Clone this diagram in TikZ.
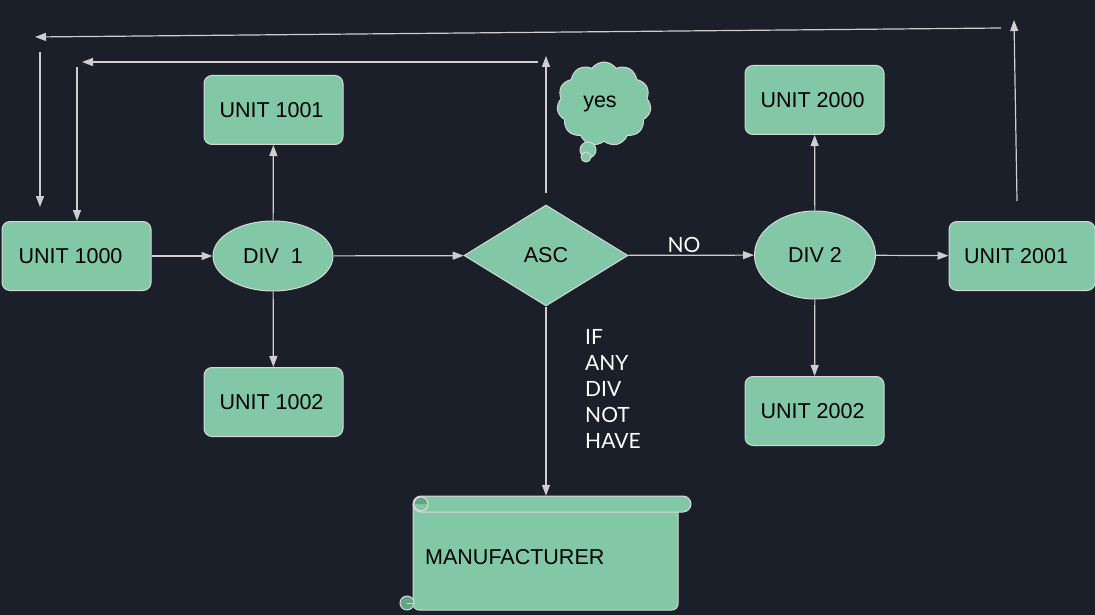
\documentclass[tikz,border=0pt]{standalone}
\usepackage{fontspec}
\setmainfont{Liberation Sans}
\newfontfamily\latofont{Lato}
\usetikzlibrary{shapes.geometric,shapes.symbols,arrows.meta,calc}
\definecolor{bg}{RGB}{27,31,42}
\definecolor{nodefill}{RGB}{130,200,166}
\definecolor{edgecol}{RGB}{205,205,210}
\definecolor{bordercol}{RGB}{215,215,215}
\definecolor{curlcol}{RGB}{100,165,135}
\begin{document}
\begin{tikzpicture}[x=1pt,y=-1pt,
  every node/.style={font=\fontsize{21.5}{25}\selectfont, text=black},
  box/.style={draw=bordercol, fill=nodefill, line width=1pt, rounded corners=8pt, minimum width=139pt, minimum height=69pt, inner sep=0pt},
  oval/.style={ellipse, draw=bordercol, fill=nodefill, line width=1pt, inner sep=0pt, minimum width=120pt},
  decision/.style={diamond, draw=bordercol, fill=nodefill, line width=1pt, inner sep=0pt, minimum width=164pt, minimum height=101pt},
  thought/.style={cloud, cloud puffs=11, cloud puff arc=110, cloud ignores aspect, draw=bordercol, fill=nodefill, line width=1pt, inner sep=0pt, minimum width=94pt, minimum height=84pt},
  scrollpart/.style={draw=bordercol, fill=nodefill, line width=1pt},
  arr/.style={draw=edgecol, line width=1.2pt, -{Triangle[length=11pt,width=8pt]}},
  note/.style={text=white, font=\latofont\fontsize{21}{26}\selectfont}
]
\fill[bg] (0,0) rectangle (1095,615);
\useasboundingbox (0,0) rectangle (1095,615);

% nodes
\node[box, minimum width=149pt] (u1000) at (76.5,256) {\hspace*{-12pt}UNIT 1000};
\node[oval, minimum height=70pt] (div1) at (273,256) {DIV\ \ 1};
\node[box] (u1001) at (273.5,110) {\hspace*{-4pt}UNIT 1001};
\node[box] (u1002) at (273.5,402) {\hspace*{-4pt}UNIT 1002};
\node[decision] (asc) at (546,255.5) {ASC};
\node[oval, minimum width=121pt, minimum height=88pt] (div2) at (815,255) {DIV 2};
\node[box] (u2000) at (814.5,100) {\hspace*{-4pt}UNIT 2000};
\node[box] (u2002) at (814.5,411) {\hspace*{-4pt}UNIT 2002};
\node[box, minimum width=146pt] (u2001) at (1022,256) {\hspace*{-12pt}UNIT 2001};

% cloud
\node[thought] (yes) at (604,104) {\hspace*{-8pt}yes};
\draw[scrollpart] (588,150) circle (8);
\draw[scrollpart] (586,157) circle (5);

% scroll
\draw[scrollpart, rounded corners=6pt] (413,504) -- (413,610) -- (678,610) -- (678,504);
\draw[scrollpart, rounded corners=8pt] (413,496) rectangle (691,512);
\draw[scrollpart] (421,504) circle (7);
\fill[curlcol] (421,504) -- (428,504) arc (0:-180:7) -- cycle;
\draw[bordercol, line width=1pt] (421,504) circle (7);
\draw[scrollpart, fill=curlcol] (407,603) circle (7);
\draw[bordercol, line width=1pt] (407,603) -- (414,603);
\node[inner sep=0pt, minimum width=265pt, minimum height=114pt] (manuf) at (545.5,553) {};
\node[anchor=west, inner sep=0pt] (mtext) at (425,557) {MANUFACTURER};

% labels
\node[note] (nolbl) at (684,245) {NO};
\node[note, anchor=north west, align=left, inner sep=0pt] (cond) at (585,329) {IF\\ANY\\DIV\\NOT\\HAVE};

% connectors
\draw[arr] (u1000) -- (div1);
\draw[arr] (div1) -- (u1001);
\draw[arr] (div1) -- (u1002);
\draw[arr] (div1) -- (asc);
\draw[arr] (asc) -- (div2);
\draw[arr] (div2) -- (u2000);
\draw[arr] (div2) -- (u2002);
\draw[arr] (div2) -- (u2001);
\draw[arr] (asc) -- (asc |- manuf.north);

% feedback lines
\coordinate (ascTop) at (546,193);
\coordinate (ascTip) at (546,56);
\coordinate (r1a) at (538,62);
\coordinate (r1b) at (82,62);
\coordinate (d1) at (77,67);
\coordinate (r2start) at (1017,201);
\coordinate (r2tip) at (1014,20);
\coordinate (r2a) at (1001,28);
\coordinate (r2b) at (35,37);
\coordinate (d2a) at (40,52);
\coordinate (d2b) at (40,207);
\draw[arr] (ascTop) -- (ascTip);
\draw[arr] (r1a) -- (r1b);
\draw[arr] (d1) -- (d1 |- u1000.north);
\draw[arr] (r2start) -- (r2tip);
\draw[arr] (r2a) -- (r2b);
\draw[arr] (d2a) -- (d2b);
\end{tikzpicture}
\end{document}
